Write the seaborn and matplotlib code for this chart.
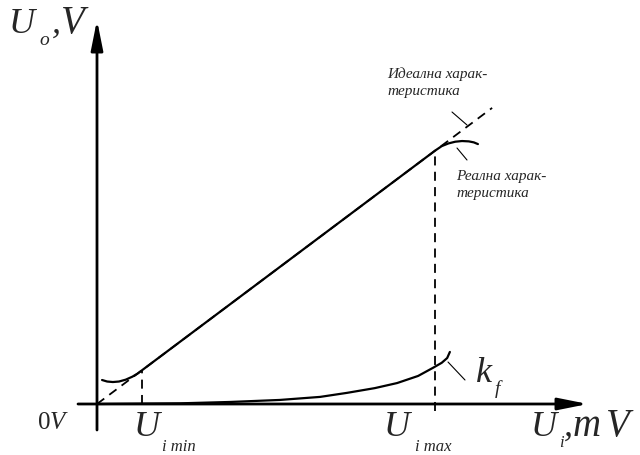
import matplotlib
matplotlib.use("Agg")
import matplotlib.pyplot as plt
from matplotlib.lines import Line2D
import seaborn as sns
import pandas as pd

# --- data (Ui in mV, Uo in V, arbitrary schematic units) ---
ui_ideal = [0.0, 11.69]
uo_ideal = [0.0, 8.76]

ui_real = [0.15, 0.30, 0.47, 0.65, 0.85, 1.05, 1.20, 1.33,
           10.0, 10.2, 10.4, 10.6, 10.8, 11.0, 11.15, 11.27]
uo_real = [0.71, 0.665, 0.65, 0.665, 0.72, 0.81, 0.90, 0.997,
           7.494, 7.63, 7.71, 7.76, 7.78, 7.77, 7.74, 7.69]

ui_kf = [0.0, 2.46, 3.93, 5.41, 6.60, 7.40, 8.22, 8.88, 9.50, 9.94, 10.20, 10.36, 10.44]
kf = [0.0, 0.02, 0.06, 0.12, 0.21, 0.33, 0.47, 0.62, 0.83, 1.07, 1.22, 1.36, 1.54]

ui_min = 1.33
ui_max = 10.0
uo_at_min = 0.997
uo_at_max = 7.494

W, H = 640, 455
sns.set_style("white")
plt.rcParams["font.family"] = ["Liberation Serif", "DejaVu Serif"]

fig = plt.figure(figsize=(W / 100, H / 100), dpi=100)
ax = fig.add_axes([0, 0, 1, 1])

# origin of the plot at pixel (97, 404), 33.8 px per unit
unit = 33.8
ox, oy = 97, 404
ax.set_xlim(-ox / unit, (W - ox) / unit)
ax.set_ylim(-(H - oy) / unit, oy / unit)
ax.axis("off")


def fp(px, py):
    return px / W, 1 - py / H


# axes with arrows
arrow = dict(arrowstyle="-|>,head_length=1.5,head_width=0.3",
             lw=2.0, color="black", mutation_scale=12,
             shrinkA=0, shrinkB=0)
ax.annotate("", xy=((588 - ox) / unit, 0), xytext=((78 - ox) / unit, 0),
            arrowprops=arrow)
ax.annotate("", xy=(0, (oy - 20) / unit), xytext=(0, (oy - 430) / unit),
            arrowprops=arrow)

ideal = pd.DataFrame({"Ui": ui_ideal, "Uo": uo_ideal})
real = pd.DataFrame({"Ui": ui_real, "Uo": uo_real})
kfd = pd.DataFrame({"Ui": ui_kf, "kf": kf})

dash = (0, (5, 3.5))
sns.lineplot(data=ideal, x="Ui", y="Uo", ax=ax, color="black", lw=1.3,
             linestyle=dash, sort=False, estimator=None)
sns.lineplot(data=real, x="Ui", y="Uo", ax=ax, color="black", lw=1.6,
             sort=False, estimator=None)
sns.lineplot(data=kfd, x="Ui", y="kf", ax=ax, color="black", lw=1.6,
             sort=False, estimator=None)

ax.plot([ui_min, ui_min], [0, uo_at_min], color="black", lw=1.3, ls=dash)
ax.plot([ui_max, ui_max], [-0.2, uo_at_max], color="black", lw=1.3, ls=dash)

# leader lines for the annotations
for (x1, y1), (x2, y2) in [((452, 112), (467, 125)),
                           ((457, 148), (467, 160)),
                           ((448, 362), (465, 380))]:
    a, b = fp(x1, y1), fp(x2, y2)
    fig.add_artist(Line2D([a[0], b[0]], [a[1], b[1]], color="black", lw=0.8,
                          transform=fig.transFigure))


def t(px, py, s, size, style="italic"):
    x, y = fp(px, py)
    fig.text(x, y, s, fontsize=size, style=style, ha="left", va="baseline",
             family=["Liberation Serif", "DejaVu Serif"])


big = 26
sub = 12
# Uo,V
t(9, 33, "U", big)
t(39, 45, "o", 14)
t(52, 33, ",", big)
t(61, 33, "V", big + 2)
# 0V
t(38, 429, "0", 18, style="normal")
t(50, 429, "V", 18)
# Ui min / max
t(134, 436, "U", big)
t(162, 451, "i min", sub)
t(384, 436, "U", big)
t(415, 451, "i max", sub)
# Ui,mV
t(531, 436, "U", big)
t(559, 447, "i", sub)
t(564, 436, ",", big)
t(573, 436, "m", big + 2)
t(606, 436, "V", big + 2)
# kf
t(476, 382, "k", big)
t(495, 394, "f", 14)
# characteristic labels
t(387, 78, "Идеална харак-", 11)
t(387, 95, "теристика", 11)
t(456, 180, "Реална харак-", 11)
t(456, 197, "теристика", 11)

fig.savefig("out.png", dpi=100)
